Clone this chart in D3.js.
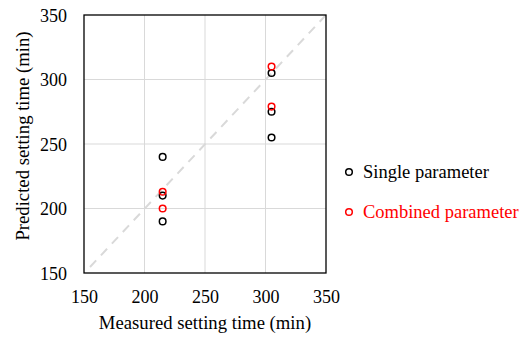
<!DOCTYPE html>
<html>
<head>
<meta charset="utf-8">
<script src="https://cdn.jsdelivr.net/npm/d3@7"></script>
<style>
  body { margin: 0; background: #fff; }
  svg text { font-family: "Liberation Serif", "Times New Roman", "DejaVu Serif", serif; }
</style>
</head>
<body>
<div id="chart"></div>
<script>
// measured / predicted setting times (min)
var singleMeasured = [215, 215, 215, 305, 305, 305];
var singlePredicted = [240, 210, 190, 305, 275, 255];
var combinedMeasured = [215, 215, 305, 305];
var combinedPredicted = [213, 200, 310, 279];
var ticks = [150, 200, 250, 300, 350];
var legendLabels = ["Single parameter", "Combined parameter"];
var legendColors = ["#000000", "#ff0000"];

var serif = "'Liberation Serif', 'Times New Roman', serif";

var margin = {left: 84, top: 15, right: 206, bottom: 66},
    width = 532 - margin.left - margin.right,
    height = 339 - margin.top - margin.bottom;

var svg = d3.select("#chart").append("svg")
    .attr("width", 532)
    .attr("height", 339)
    .attr("font-family", serif);

var g = svg.append("g")
    .attr("transform", "translate(" + margin.left + "," + margin.top + ")");

var x = d3.scaleLinear().domain([150, 350]).range([0, width]);
var y = d3.scaleLinear().domain([150, 350]).range([height, 0]);

// grid
g.append("g").selectAll("line").data(ticks.slice(1, -1))
  .enter().append("line")
    .attr("x1", function (d) { return x(d); })
    .attr("x2", function (d) { return x(d); })
    .attr("y1", 0).attr("y2", height)
    .attr("stroke", "#d9d9d9").attr("stroke-width", 1);
g.append("g").selectAll("line").data(ticks.slice(1, -1))
  .enter().append("line")
    .attr("y1", function (d) { return y(d); })
    .attr("y2", function (d) { return y(d); })
    .attr("x1", 0).attr("x2", width)
    .attr("stroke", "#d9d9d9").attr("stroke-width", 1);

// 1:1 line
g.append("line")
  .attr("x1", x(150) + 6).attr("y1", y(150) - 6)
  .attr("x2", x(350)).attr("y2", y(350))
  .attr("stroke", "#d9d9d9")
  .attr("stroke-width", 2)
  .attr("stroke-dasharray", "9,7");

// axes
var xAxis = d3.axisBottom(x).tickValues(ticks).tickSize(0).tickPadding(17);
var yAxis = d3.axisLeft(y).tickValues(ticks).tickSize(0).tickPadding(17);

var gx = g.append("g").attr("transform", "translate(0," + height + ")").call(xAxis);
var gy = g.append("g").call(yAxis);
[gx, gy].forEach(function (a) {
  a.attr("font-family", serif).attr("font-size", 18);
  a.select(".domain").remove();
  a.selectAll("text").attr("fill", "#000");
});
gy.selectAll("text").attr("dy", "0.35em");

// frame
g.append("rect")
  .attr("width", width).attr("height", height)
  .attr("fill", "none").attr("stroke", "#000").attr("stroke-width", 1.3);

// points
function drawPoints(xs, ys, color) {
  g.append("g").selectAll("circle").data(xs)
    .enter().append("circle")
      .attr("cx", function (d) { return x(d); })
      .attr("cy", function (d, i) { return y(ys[i]); })
      .attr("r", 3.3)
      .attr("fill", "none")
      .attr("stroke", color)
      .attr("stroke-width", 1.5);
}
drawPoints(singleMeasured, singlePredicted, legendColors[0]);
drawPoints(combinedMeasured, combinedPredicted, legendColors[1]);

// axis titles
svg.append("text")
  .attr("x", margin.left + width / 2)
  .attr("y", 329)
  .attr("text-anchor", "middle")
  .attr("font-size", 18.7)
  .text("Measured setting time (min)");

svg.append("text")
  .attr("transform", "translate(29,136) rotate(-90)")
  .attr("text-anchor", "middle")
  .attr("font-size", 18.7)
  .text("Predicted setting time (min)");

// legend
var legend = svg.append("g").selectAll("g").data(legendLabels)
  .enter().append("g")
    .attr("transform", function (d, i) { return "translate(0," + (172 + i * 40) + ")"; });
legend.append("circle")
  .attr("cx", 349).attr("cy", 0).attr("r", 3.3)
  .attr("fill", "none")
  .attr("stroke", function (d, i) { return legendColors[i]; })
  .attr("stroke-width", 1.5);
legend.append("text")
  .attr("x", 363).attr("y", 0).attr("dy", "0.35em")
  .attr("fill", function (d, i) { return legendColors[i]; })
  .attr("font-size", 18.5)
  .text(function (d) { return d; });
</script>
</body>
</html>
